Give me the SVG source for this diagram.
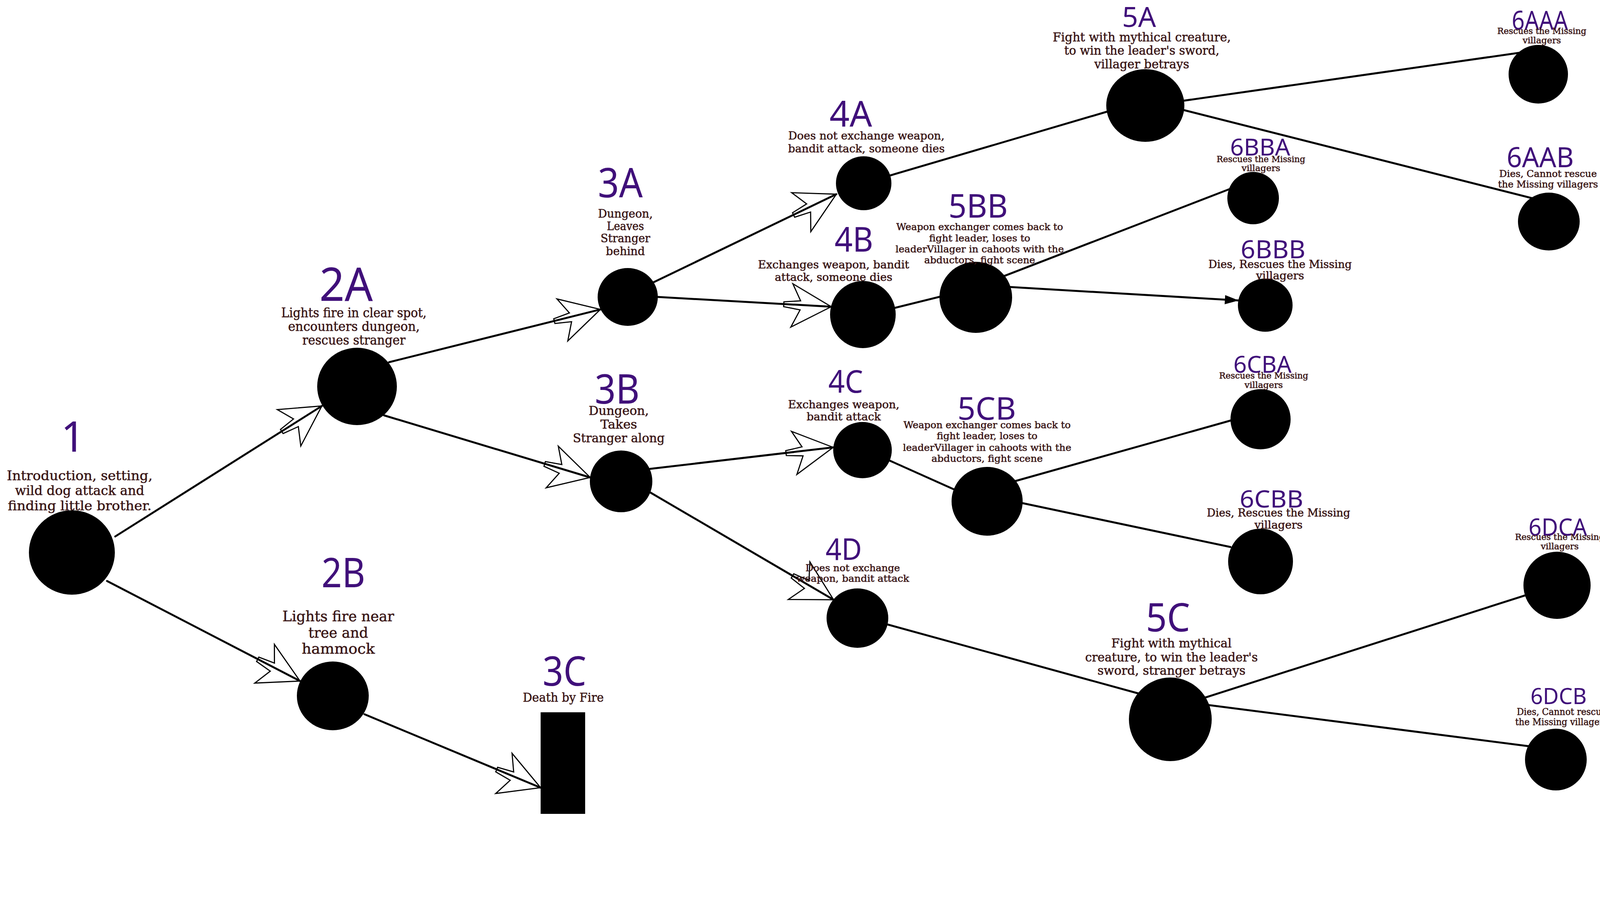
<svg xmlns="http://www.w3.org/2000/svg" width="4800" height="2306" viewBox="0 0 4800 2306">
<defs>
<style>
.lbl{font-family:"Noto Sans","DejaVu Sans",sans-serif;fill:#40107a;text-anchor:middle}
.dsc{font-family:"DejaVu Serif","Liberation Serif",serif;fill:#3a1616;stroke:#3a1616;stroke-width:0.7;text-anchor:middle}
.dot{fill:#000}
.ln{stroke:#000;stroke-width:5;fill:none;stroke-linecap:round}
.ar{marker-end:url(#arr)}
</style>
<marker id="arr" markerUnits="userSpaceOnUse" markerWidth="140" markerHeight="140" viewBox="-135 -70 145 140" refX="0" refY="0" orient="auto" overflow="visible">
<path d="M0,0 L-105,-55 L-82,-11 L-126,-6 L-126,7 L-82,13 L-104,60 Z" fill="none" stroke="#000" stroke-width="3" stroke-linejoin="miter"/>
</marker>
<marker id="sm" markerUnits="userSpaceOnUse" markerWidth="40" markerHeight="30" viewBox="-32 -12 34 24" refX="0" refY="0" orient="auto" overflow="visible">
<path d="M0,0 L-30,-10 L-30,10 Z" fill="#000"/>
</marker>
</defs>
<rect width="4800" height="2306" fill="#fff"/>
<g id="connectors">
<path class="ln ar" d="M295,1373 L824,1039"/>
<path class="ln ar" d="M274,1487 L768,1743"/>
<path class="ln ar" d="M933,1828 L1384,2016"/>
<path class="ln ar" d="M996,927 L1537,792"/>
<path class="ln ar" d="M983,1063 L1511,1222"/>
<path class="ln ar" d="M1674,722 L2141,497"/>
<path class="ln ar" d="M1684,760 L2128,785"/>
<path class="ln ar" d="M1664,1200 L2133,1145"/>
<path class="ln ar" d="M1664,1260 L2134,1535"/>
<path class="ln" d="M2211,469 L2840,284"/>
<path class="ln" d="M2250,798 L2420,756"/>
<path class="ln" d="M2520,726 L3150,483"/>
<path class="ln" d="M2560,733 L3171,769" marker-end="url(#sm)"/>
<path class="ln" d="M3000,262 L3890,135"/>
<path class="ln" d="M3000,274 L3925,508"/>
<path class="ln" d="M2260,1171 L2450,1256"/>
<path class="ln" d="M2600,1231 L3155,1075"/>
<path class="ln" d="M2600,1284 L3150,1400"/>
<path class="ln" d="M2260,1595 L2915,1775"/>
<path class="ln" d="M3080,1787 L3910,1522"/>
<path class="ln" d="M3090,1804 L3915,1910"/>
</g>
<g id="node-1">
<ellipse class="dot" cx="184" cy="1414" rx="110" ry="108"/>
<text class="lbl" x="187" y="1156" font-size="108">1</text>
<text class="dsc" font-size="34"><tspan x="204" y="1229" textLength="373" lengthAdjust="spacingAndGlyphs">Introduction, setting,</tspan><tspan x="204" y="1267" textLength="331" lengthAdjust="spacingAndGlyphs">wild dog attack and</tspan><tspan x="204" y="1306" textLength="368" lengthAdjust="spacingAndGlyphs">finding little brother.</tspan></text>
</g>
<g id="node-2A">
<ellipse class="dot" cx="914" cy="989" rx="102" ry="99"/>
<text class="lbl" x="886" y="770" font-size="119" textLength="137" lengthAdjust="spacingAndGlyphs">2A</text>
<text class="dsc" font-size="33.5"><tspan x="906" y="812" textLength="372" lengthAdjust="spacingAndGlyphs">Lights fire in clear spot,</tspan><tspan x="906" y="847" textLength="337" lengthAdjust="spacingAndGlyphs">encounters dungeon,</tspan><tspan x="906" y="882" textLength="264" lengthAdjust="spacingAndGlyphs">rescues stranger</tspan></text>
</g>
<g id="node-2B">
<ellipse class="dot" cx="852" cy="1781" rx="92" ry="88"/>
<text class="lbl" x="879" y="1503" font-size="104" textLength="112" lengthAdjust="spacingAndGlyphs">2B</text>
<text class="dsc" font-size="38"><tspan x="866" y="1590" textLength="286" lengthAdjust="spacingAndGlyphs">Lights fire near</tspan><tspan x="866" y="1632" textLength="153" lengthAdjust="spacingAndGlyphs">tree and</tspan><tspan x="866" y="1673" textLength="187" lengthAdjust="spacingAndGlyphs">hammock</tspan></text>
</g>
<g id="node-3A">
<ellipse class="dot" cx="1607" cy="760" rx="77" ry="74"/>
<text class="lbl" x="1588" y="505" font-size="104" textLength="115" lengthAdjust="spacingAndGlyphs">3A</text>
<text class="dsc" font-size="30"><tspan x="1601" y="557" textLength="140" lengthAdjust="spacingAndGlyphs">Dungeon,</tspan><tspan x="1601" y="589" textLength="95" lengthAdjust="spacingAndGlyphs">Leaves</tspan><tspan x="1601" y="620" textLength="127" lengthAdjust="spacingAndGlyphs">Stranger</tspan><tspan x="1601" y="653" textLength="100" lengthAdjust="spacingAndGlyphs">behind</tspan></text>
</g>
<g id="node-3B">
<ellipse class="dot" cx="1590" cy="1232" rx="80" ry="79"/>
<text class="lbl" x="1580" y="1033" font-size="104" textLength="115" lengthAdjust="spacingAndGlyphs">3B</text>
<text class="dsc" font-size="32"><tspan x="1584" y="1062" textLength="154" lengthAdjust="spacingAndGlyphs">Dungeon,</tspan><tspan x="1584" y="1097" textLength="94" lengthAdjust="spacingAndGlyphs">Takes</tspan><tspan x="1584" y="1132" textLength="235" lengthAdjust="spacingAndGlyphs">Stranger along</tspan></text>
</g>
<g id="node-3C">
<rect class="dot" x="1384" y="1823" width="114" height="260"/>
<text class="lbl" x="1445" y="1755" font-size="104" textLength="112" lengthAdjust="spacingAndGlyphs">3C</text>
<text class="dsc" font-size="32" x="1442" y="1796" textLength="207" lengthAdjust="spacingAndGlyphs">Death by Fire</text>
</g>
<g id="node-4A">
<ellipse class="dot" cx="2211" cy="469" rx="71" ry="69"/>
<text class="lbl" x="2178" y="324" font-size="92" textLength="109" lengthAdjust="spacingAndGlyphs">4A</text>
<text class="dsc" font-size="28"><tspan x="2218" y="357" textLength="400" lengthAdjust="spacingAndGlyphs">Does not exchange weapon,</tspan><tspan x="2218" y="390" textLength="401" lengthAdjust="spacingAndGlyphs">bandit attack, someone dies</tspan></text>
</g>
<g id="node-4B">
<ellipse class="dot" cx="2209" cy="805" rx="84" ry="86"/>
<text class="lbl" x="2186" y="644" font-size="87" textLength="99" lengthAdjust="spacingAndGlyphs">4B</text>
<text class="dsc" font-size="27"><tspan x="2134" y="687" textLength="387" lengthAdjust="spacingAndGlyphs">Exchanges weapon, bandit</tspan><tspan x="2134" y="719" textLength="301" lengthAdjust="spacingAndGlyphs">attack, someone dies</tspan></text>
</g>
<g id="node-4C">
<ellipse class="dot" cx="2208" cy="1152" rx="75" ry="72"/>
<text class="lbl" x="2165" y="1005" font-size="80" textLength="89" lengthAdjust="spacingAndGlyphs">4C</text>
<text class="dsc" font-size="27"><tspan x="2160" y="1045" textLength="285" lengthAdjust="spacingAndGlyphs">Exchanges weapon,</tspan><tspan x="2160" y="1076" textLength="190" lengthAdjust="spacingAndGlyphs">bandit attack</tspan></text>
</g>
<g id="node-4D">
<ellipse class="dot" cx="2195" cy="1582" rx="79" ry="76"/>
<text class="lbl" x="2160" y="1433" font-size="76" textLength="93" lengthAdjust="spacingAndGlyphs">4D</text>
<text class="dsc" font-size="24.5"><tspan x="2183" y="1462" textLength="242" lengthAdjust="spacingAndGlyphs">Does not exchange</tspan><tspan x="2183" y="1489" textLength="289" lengthAdjust="spacingAndGlyphs">weapon, bandit attack</tspan></text>
</g>
<g id="node-5A">
<ellipse class="dot" cx="2932" cy="270" rx="100" ry="93"/>
<text class="lbl" x="2916" y="69" font-size="72" textLength="87" lengthAdjust="spacingAndGlyphs">5A</text>
<text class="dsc" font-size="32"><tspan x="2923" y="106" textLength="456" lengthAdjust="spacingAndGlyphs">Fight with mythical creature,</tspan><tspan x="2923" y="140" textLength="397" lengthAdjust="spacingAndGlyphs">to win the leader's sword,</tspan><tspan x="2923" y="175" textLength="243" lengthAdjust="spacingAndGlyphs">villager betrays</tspan></text>
</g>
<g id="node-5BB">
<ellipse class="dot" cx="2498" cy="761" rx="93" ry="91"/>
<text class="lbl" x="2504" y="557" font-size="84" textLength="152" lengthAdjust="spacingAndGlyphs">5BB</text>
<text class="dsc" font-size="25"><tspan x="2508" y="589" textLength="427" lengthAdjust="spacingAndGlyphs">Weapon exchanger comes back to</tspan><tspan x="2508" y="618" textLength="259" lengthAdjust="spacingAndGlyphs">fight leader, loses to</tspan><tspan x="2508" y="646" textLength="431" lengthAdjust="spacingAndGlyphs">leaderVillager in cahoots with the</tspan><tspan x="2508" y="674" textLength="284" lengthAdjust="spacingAndGlyphs">abductors, fight scene</tspan></text>
</g>
<g id="node-5CB">
<ellipse class="dot" cx="2527" cy="1283" rx="91" ry="88"/>
<text class="lbl" x="2526" y="1074" font-size="81" textLength="150" lengthAdjust="spacingAndGlyphs">5CB</text>
<text class="dsc" font-size="25"><tspan x="2527" y="1096" textLength="428" lengthAdjust="spacingAndGlyphs">Weapon exchanger comes back to</tspan><tspan x="2527" y="1124" textLength="258" lengthAdjust="spacingAndGlyphs">fight leader, loses to</tspan><tspan x="2527" y="1154" textLength="431" lengthAdjust="spacingAndGlyphs">leaderVillager in cahoots with the</tspan><tspan x="2527" y="1182" textLength="285" lengthAdjust="spacingAndGlyphs">abductors, fight scene</tspan></text>
</g>
<g id="node-5C">
<ellipse class="dot" cx="2996" cy="1841" rx="106" ry="107"/>
<text class="lbl" x="2990" y="1616" font-size="101" textLength="113" lengthAdjust="spacingAndGlyphs">5C</text>
<text class="dsc" font-size="32"><tspan x="2999" y="1657" textLength="308" lengthAdjust="spacingAndGlyphs">Fight with mythical</tspan><tspan x="2999" y="1693" textLength="442" lengthAdjust="spacingAndGlyphs">creature, to win the leader's</tspan><tspan x="2999" y="1727" textLength="379" lengthAdjust="spacingAndGlyphs">sword, stranger betrays</tspan></text>
</g>
<g id="node-6AAA">
<ellipse class="dot" cx="3938" cy="190" rx="76" ry="75"/>
<text class="lbl" x="3942" y="76" font-size="67" textLength="144" lengthAdjust="spacingAndGlyphs">6AAA</text>
<text class="dsc" font-size="22.5"><tspan x="3947" y="87" textLength="228" lengthAdjust="spacingAndGlyphs">Rescues the Missing</tspan><tspan x="3947" y="111" textLength="98" lengthAdjust="spacingAndGlyphs">villagers</tspan></text>
</g>
<g id="node-6AAB">
<ellipse class="dot" cx="3965" cy="567" rx="79" ry="74"/>
<text class="lbl" x="3943" y="428" font-size="71" textLength="172" lengthAdjust="spacingAndGlyphs">6AAB</text>
<text class="dsc" font-size="25"><tspan x="3963" y="453" textLength="250" lengthAdjust="spacingAndGlyphs">Dies, Cannot rescue</tspan><tspan x="3963" y="480" textLength="256" lengthAdjust="spacingAndGlyphs">the Missing villagers</tspan></text>
</g>
<g id="node-6BBA">
<ellipse class="dot" cx="3208" cy="507" rx="66" ry="67"/>
<text class="lbl" x="3226" y="398" font-size="60" textLength="154" lengthAdjust="spacingAndGlyphs">6BBA</text>
<text class="dsc" font-size="22.5"><tspan x="3228" y="415" textLength="227" lengthAdjust="spacingAndGlyphs">Rescues the Missing</tspan><tspan x="3228" y="438" textLength="99" lengthAdjust="spacingAndGlyphs">villagers</tspan></text>
</g>
<g id="node-6BBB">
<ellipse class="dot" cx="3239" cy="781" rx="70" ry="68"/>
<text class="lbl" x="3259" y="661" font-size="64" textLength="166" lengthAdjust="spacingAndGlyphs">6BBB</text>
<text class="dsc" font-size="28"><tspan x="3277" y="686" textLength="367" lengthAdjust="spacingAndGlyphs">Dies, Rescues the Missing</tspan><tspan x="3277" y="715" textLength="123" lengthAdjust="spacingAndGlyphs">villagers</tspan></text>
</g>
<g id="node-6CBA">
<ellipse class="dot" cx="3227" cy="1073" rx="77" ry="77"/>
<text class="lbl" x="3232" y="954" font-size="60" textLength="149" lengthAdjust="spacingAndGlyphs">6CBA</text>
<text class="dsc" font-size="22.5"><tspan x="3235" y="969" textLength="228" lengthAdjust="spacingAndGlyphs">Rescues the Missing</tspan><tspan x="3235" y="993" textLength="98" lengthAdjust="spacingAndGlyphs">villagers</tspan></text>
</g>
<g id="node-6CBB">
<ellipse class="dot" cx="3227" cy="1437" rx="83" ry="84"/>
<text class="lbl" x="3255" y="1299" font-size="62" textLength="163" lengthAdjust="spacingAndGlyphs">6CBB</text>
<text class="dsc" font-size="27"><tspan x="3273" y="1322" textLength="367" lengthAdjust="spacingAndGlyphs">Dies, Rescues the Missing</tspan><tspan x="3273" y="1353" textLength="123" lengthAdjust="spacingAndGlyphs">villagers</tspan></text>
</g>
<g id="node-6DCA">
<ellipse class="dot" cx="3986" cy="1498" rx="86" ry="86"/>
<text class="lbl" x="3988" y="1371" font-size="62" textLength="150" lengthAdjust="spacingAndGlyphs">6DCA</text>
<text class="dsc" font-size="22.5"><tspan x="3993" y="1382" textLength="229" lengthAdjust="spacingAndGlyphs">Rescues the Missing</tspan><tspan x="3993" y="1406" textLength="97" lengthAdjust="spacingAndGlyphs">villagers</tspan></text>
</g>
<g id="node-6DCB">
<ellipse class="dot" cx="3983" cy="1944" rx="79" ry="79"/>
<text class="lbl" x="3990" y="1802" font-size="56" textLength="144" lengthAdjust="spacingAndGlyphs">6DCB</text>
<text class="dsc" font-size="24.5"><tspan x="3998" y="1830" textLength="230" lengthAdjust="spacingAndGlyphs">Dies, Cannot rescue</tspan><tspan x="3998" y="1856" textLength="238" lengthAdjust="spacingAndGlyphs">the Missing villagers</tspan></text>
</g>
</svg>
